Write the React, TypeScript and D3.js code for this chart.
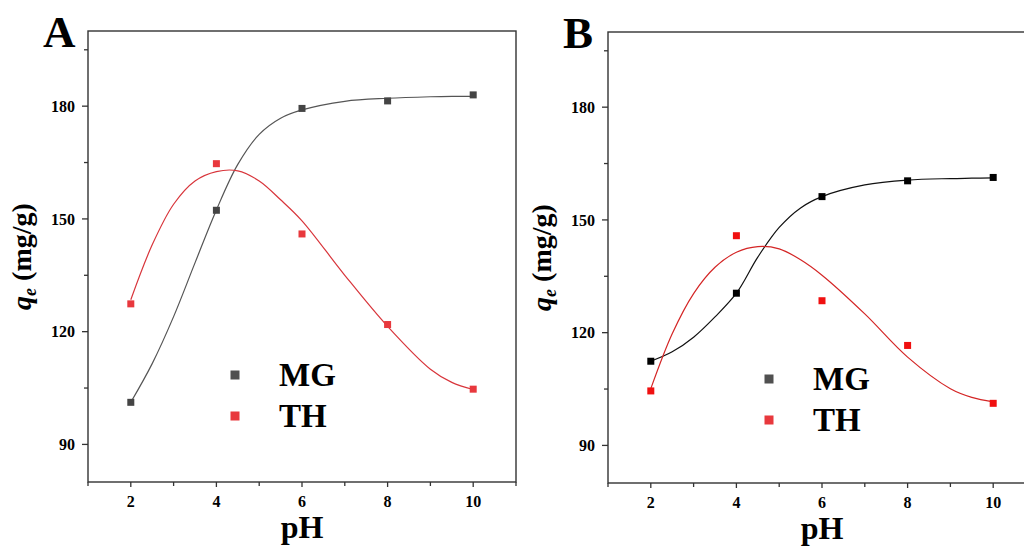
import React from "react";
import * as d3 from "d3";

// measured points (pH vs qe)
const phValues = [2, 4, 6, 8, 10];
const mgA = [101.2, 152.3, 179.4, 181.4, 183.0];
const thA = [127.4, 164.7, 146.0, 121.9, 104.7];
const mgB = [112.4, 130.5, 156.2, 160.4, 161.3];
const thB = [104.5, 145.8, 128.5, 116.6, 101.2];

// fitted curves
const fitPh = [2, 2.5, 3, 3.5, 4, 4.5, 5, 5.5, 6, 7, 8, 9, 9.5, 10];
const mgFitA = [101.2, 111.5, 124.0, 138.3, 152.4, 164.5, 172.5, 176.8, 179.0, 181.3, 182.1, 182.5, 182.6, 182.6];
const thFitA = [128.5, 143.1, 153.9, 160.1, 162.6, 162.8, 160.1, 155.1, 149.5, 135.0, 121.4, 110.0, 106.5, 104.6];
const mgFitB = [112.4, 114.9, 118.8, 124.2, 130.5, 140.1, 148.0, 153.2, 156.2, 159.3, 160.6, 161.0, 161.1, 161.2];
const thFitB = [105.1, 119.7, 130.4, 137.4, 141.4, 142.9, 142.3, 139.4, 135.3, 125.0, 113.5, 105.1, 102.8, 101.6];

const xMajor = [2, 4, 6, 8, 10];
const xMinor = [1, 3, 5, 7, 9, 11];
const yMajor = [90, 120, 150, 180];
const yMinor = [105, 135, 165, 195];
const legendNames = ["MG", "TH"];

const FONT = "'Liberation Serif', 'Times New Roman', serif";

function Panel({ left, top, bottom, letter, mg, th, mgFit, thFit, colors }) {
    const x = d3.scaleLinear().domain([1, 11]).range([left, left + 428]);
    const y = d3.scaleLinear().domain([80, 200]).range([bottom, top]);
    const line = d3.line().x((d) => x(d[0])).y((d) => y(d[1])).curve(d3.curveCatmullRom.alpha(0.5));
    const mgPath = line(fitPh.map((p, i) => [p, mgFit[i]]));
    const thPath = line(fitPh.map((p, i) => [p, thFit[i]]));
    const axisColor = "#333";
    const right = x(11);
    const midY = (top + bottom) / 2;

    return (
        <g>
            {/* frame */}
            <rect x={left} y={top} width={right - left} height={bottom - top} fill="none" stroke={axisColor} strokeWidth={1.4} />

            {/* x ticks */}
            {xMajor.map((t) => (
                <g key={"xM" + t}>
                    <line x1={x(t)} x2={x(t)} y1={bottom} y2={bottom + 5} stroke={axisColor} strokeWidth={1.3} />
                    <text x={x(t)} y={bottom + 25} textAnchor="middle" fontSize={16} fontWeight="bold" fontFamily={FONT}>{t}</text>
                </g>
            ))}
            {xMinor.map((t) => (
                <line key={"xm" + t} x1={x(t)} x2={x(t)} y1={bottom} y2={bottom + 4} stroke={axisColor} strokeWidth={1.3} />
            ))}

            {/* y ticks */}
            {yMajor.map((t) => (
                <g key={"yM" + t}>
                    <line x1={left} x2={left - 6} y1={y(t)} y2={y(t)} stroke={axisColor} strokeWidth={1.3} />
                    <text x={left - 13} y={y(t)} dy="0.35em" textAnchor="end" fontSize={16} fontWeight="bold" fontFamily={FONT}>{t}</text>
                </g>
            ))}
            {yMinor.map((t) => (
                <line key={"ym" + t} x1={left} x2={left - 4} y1={y(t)} y2={y(t)} stroke={axisColor} strokeWidth={1.3} />
            ))}

            {/* axis titles */}
            <text x={x(6)} y={bottom + 56} textAnchor="middle" fontSize={32} fontWeight="bold" fontFamily={FONT}>pH</text>
            <text transform={`translate(${left - 57},${midY}) rotate(-90)`} textAnchor="middle" fontSize={28} fontWeight="bold" fontFamily={FONT}>
                <tspan fontStyle="italic">q</tspan>
                <tspan fontStyle="italic" fontSize={18} dy={5}>e</tspan>
                <tspan dy={-5}> (mg/g)</tspan>
            </text>
            <text x={left - 45} y={top + 16} fontSize={45} fontWeight="bold" fontFamily={FONT}>{letter}</text>

            {/* fitted curves */}
            <path d={mgPath} fill="none" stroke={colors.mgLine} strokeWidth={1.2} />
            <path d={thPath} fill="none" stroke={colors.thLine} strokeWidth={1.2} />

            {/* points */}
            {phValues.map((p, i) => (
                <rect key={"mg" + p} x={x(p) - 3.5} y={y(mg[i]) - 3.5} width={7} height={7} fill={colors.mg} />
            ))}
            {phValues.map((p, i) => (
                <rect key={"th" + p} x={x(p) - 3.5} y={y(th[i]) - 3.5} width={7} height={7} fill={colors.th} />
            ))}

            {/* legend */}
            {legendNames.map((name, i) => (
                <g key={name} transform={`translate(${colors.legX},${colors.legY + i * 41})`}>
                    <rect x={-4.5} y={-4.5} width={9} height={9} fill={i === 0 ? "#505050" : "#e8383d"} />
                    <text x={44} y={11} fontSize={33} fontWeight="bold" fontFamily={FONT}>{name}</text>
                </g>
            ))}
        </g>
    );
}

export default function App() {
    return (
        <svg width={1024} height={547} style={{ position: "absolute", left: 0, top: 0, background: "#fff" }}>
            <rect width={1024} height={547} fill="#fff" />
            <Panel left={88} top={31} bottom={482} letter="A" mg={mgA} th={thA} mgFit={mgFitA} thFit={thFitA}
                colors={{ mg: "#444", th: "#e8383d", mgLine: "#555", thLine: "#d8353b", legX: 235, legY: 375 }} />
            <Panel left={608} top={32} bottom={483} letter="B" mg={mgB} th={thB} mgFit={mgFitB} thFit={thFitB}
                colors={{ mg: "#000", th: "#f01010", mgLine: "#111", thLine: "#d42525", legX: 769, legY: 379 }} />
        </svg>
    );
}
